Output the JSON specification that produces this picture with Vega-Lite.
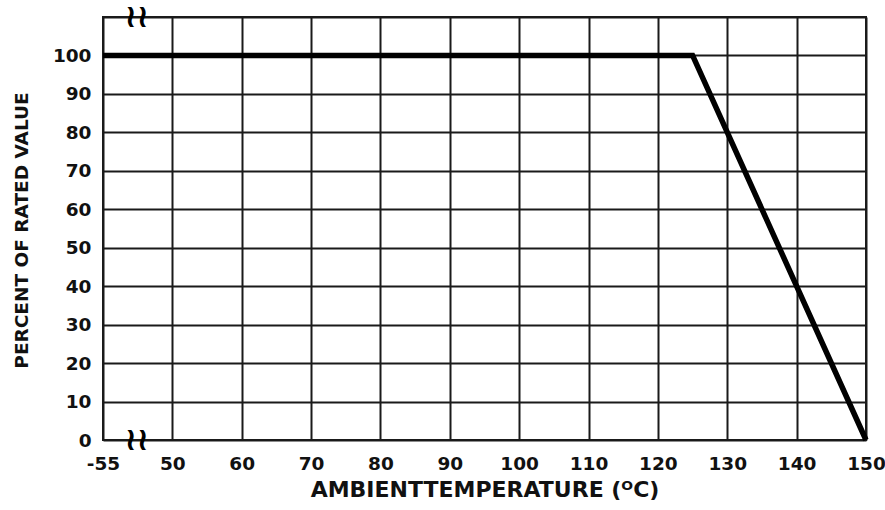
{
  "$schema": "https://vega.github.io/schema/vega-lite/v6.json",
  "width": 763,
  "height": 423,
  "autosize": {"type": "none"},
  "padding": {"left": 103, "top": 17, "right": 19, "bottom": 70},
  "background": "white",
  "view": {"stroke": "#1a1a1a", "strokeWidth": 2},
  "datasets": {
    "derating": [
      {"temp": -55, "pct": 100},
      {"temp": 125, "pct": 100},
      {"temp": 150, "pct": 0}
    ],
    "breaks": [
      {"temp": -4, "pct": 110, "mark": "≀≀"},
      {"temp": -4, "pct": 0, "mark": "≀≀"}
    ]
  },
  "config": {
    "font": "DejaVu Sans",
    "axis": {
      "labelFont": "DejaVu Sans",
      "labelFontWeight": "bold",
      "labelFontSize": 18.5,
      "labelColor": "#111",
      "labelOverlap": false,
      "titleFont": "DejaVu Sans",
      "titleFontWeight": "bold",
      "titleColor": "#111",
      "domain": false,
      "ticks": false,
      "grid": true,
      "gridColor": "#1a1a1a",
      "gridWidth": 2,
      "gridOpacity": 1
    }
  },
  "encoding": {
    "x": {
      "field": "temp",
      "type": "quantitative",
      "scale": {"domain": [-55, 50, 150], "range": [0, 69.36, 763], "zero": false, "nice": false},
      "axis": {
        "values": [-55, 50, 60, 70, 80, 90, 100, 110, 120, 130, 140, 150],
        "labelExpr": "'' + datum.value",
        "labelPadding": 14,
        "labelFlush": false,
        "title": "AMBIENTTEMPERATURE (ᴼC)",
        "titleFontSize": 22,
        "titleBaseline": "alphabetic",
        "titleY": 56
      }
    },
    "y": {
      "field": "pct",
      "type": "quantitative",
      "scale": {"domain": [0, 110], "zero": false, "nice": false},
      "axis": {
        "values": [0, 10, 20, 30, 40, 50, 60, 70, 80, 90, 100, 110],
        "labelExpr": "datum.value > 100 ? '' : datum.label",
        "labelPadding": 12,
        "labelBaseline": "middle",
        "title": "PERCENT OF RATED VALUE",
        "titleFontSize": 18.5,
        "titleBaseline": "middle",
        "titleAngle": -90,
        "titleX": -82,
        "titleY": 213
      }
    }
  },
  "layer": [
    {
      "data": {"name": "derating"},
      "mark": {"type": "line", "color": "black", "strokeWidth": 5.5, "strokeJoin": "miter", "clip": false}
    },
    {
      "data": {"name": "breaks"},
      "mark": {"type": "text", "font": "DejaVu Sans", "fontWeight": "bold", "fontSize": 32, "color": "black", "baseline": "middle", "align": "center", "clip": false},
      "encoding": {
        "text": {"field": "mark"}
      }
    }
  ]
}
